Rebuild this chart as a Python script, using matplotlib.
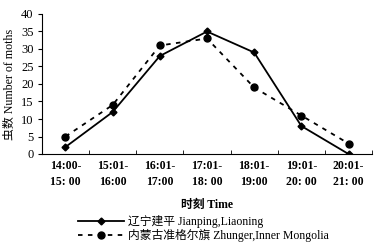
import numpy as np
import matplotlib
matplotlib.use("Agg")
import matplotlib.pyplot as plt
from matplotlib.ticker import FixedLocator

plt.rcParams['font.family'] = ['Liberation Serif', 'Noto Sans CJK SC']

periods = ["14:00-\n15: 00", "15:01-\n16:00", "16:01-\n17:00", "17:01-\n18: 00",
           "18:01-\n19:00", "19:01-\n20: 00", "20:01-\n21: 00"]
liaoning = [2, 12, 28, 35, 29, 8, 0]
mongolia = [5, 14, 31, 33, 19, 11, 3]
label_ln = "辽宁建平 Jianping,Liaoning"
label_nm = "内蒙古准格尔旗 Zhunger,Inner Mongolia"

fig = plt.figure(figsize=(3.88, 2.5), dpi=100)
ax = fig.add_axes([0.108, 0.384, 0.851, 0.56])

x = np.arange(len(periods)) + 0.5
l1, = ax.plot(x, liaoning, color='black', lw=1.3, marker='D', ms=3.5)
l2, = ax.plot(x, mongolia, color='black', lw=1.3, ls=(0, (2.5, 3)), marker='o', ms=5)

ax.set_xlim(0, len(periods))
ax.set_ylim(0, 40)
ax.set_yticks(range(0, 41, 5))
ax.set_xticks(x)
ax.set_xticklabels(periods, fontsize=8.5, fontweight='bold', linespacing=1.45)
ax.tick_params(axis='x', length=0, pad=4)
ax.xaxis.set_minor_locator(FixedLocator(range(0, len(periods) + 1)))
ax.tick_params(axis='x', which='minor', direction='in', length=3)
ax.tick_params(axis='y', labelsize=9, length=3, direction='out', pad=3)
for s in ['top', 'right']:
    ax.spines[s].set_visible(False)

ax.set_ylabel("虫数 Number of moths", fontsize=8.6, labelpad=4)
ax.set_xlabel("时刻 Time", fontsize=8.5, fontweight='bold', labelpad=8)

fig.legend([l1, l2], [label_ln, label_nm], loc='upper left',
           bbox_to_anchor=(0.19, 0.158), frameon=False, fontsize=8.5,
           handlelength=3.9, labelspacing=0.05, borderaxespad=0, handletextpad=0.3)

fig.savefig("out.png", dpi=100)
